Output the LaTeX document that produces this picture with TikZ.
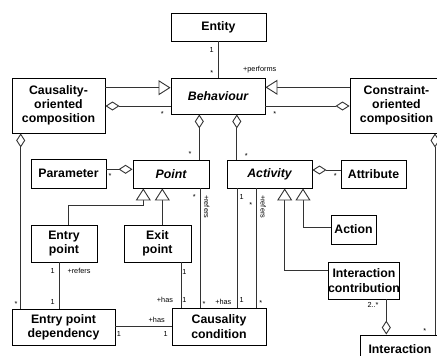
\documentclass[tikz,border=0pt]{standalone}
\usepackage{fontspec}
\setmainfont{Liberation Sans}
\usetikzlibrary{arrows.meta}
\begin{document}
\begin{tikzpicture}[x=1pt,y=-1pt,
  box/.style={draw=black, line width=0.9pt, fill=white, align=center, inner sep=0pt,
    font=\fontsize{12.3}{14.3}\selectfont\bfseries},
  abstract/.style={box, font=\fontsize{12.3}{14.3}\selectfont\bfseries\itshape},
  conn/.style={draw=black!80, line width=0.9pt},
  gen/.style={conn, -{Triangle[length=12pt, width=15pt, fill=white]}},
  aggs/.style={conn, {Diamond[length=14pt, width=9pt, fill=white]}-},
  agge/.style={conn, -{Diamond[length=14pt, width=9pt, fill=white]}},
  lbl/.style={font=\fontsize{7.3}{8}\selectfont, inner sep=0pt},
  star/.style={lbl, yshift=-1.5pt},
  vlbl/.style={lbl, rotate=-90},
]
\clip (0,0) rectangle (437,356);

% classes
\node[box, minimum width=95pt, minimum height=28pt] (entity) at (218.5,27) {Entity};
\node[abstract, minimum width=94pt, minimum height=36pt] (behaviour) at (218,96) {Behaviour};
\node[box, minimum width=93pt, minimum height=55pt] (causcomp) at (58.5,105.5) {Causality-\\oriented\\composition};
\node[box, minimum width=93pt, minimum height=55pt] (conscomp) at (396.5,105.5) {Constraint-\\oriented\\composition};
\node[box, minimum width=75pt, minimum height=29pt] (parameter) at (68.5,173.5) {Parameter};
\node[abstract, minimum width=76pt, minimum height=28pt] (point) at (171,174) {Point};
\node[abstract, minimum width=85pt, minimum height=28pt] (activity) at (269.5,174) {Activity};
\node[box, minimum width=65pt, minimum height=28pt] (attribute) at (373.5,174) {Attribute};
\node[box, minimum width=66pt, minimum height=37pt] (entry) at (64,243.5) {Entry\\point};
\node[box, minimum width=67pt, minimum height=37pt] (exit) at (157.5,243.5) {Exit\\point};
\node[box, minimum width=45pt, minimum height=29pt] (action) at (353.5,229.5) {Action};
\node[box, minimum width=66pt, minimum height=37pt] (contrib) at (364,280.5) {Interaction\\contribution};
\node[box, minimum width=103pt, minimum height=36pt] (epd) at (63.5,327) {Entry point\\dependency};
\node[box, minimum width=94pt, minimum height=37pt] (cond) at (219,326.5) {Causality\\condition};
\node[box, minimum width=80pt, minimum height=29pt] (interaction) at (400,349.5) {Interaction};

% Entity performs Behaviour
\draw[conn] (entity.south) -- (entity.south |- behaviour.north);
\node[lbl] (m1) at (211.7,50) {1};
\node[star] (m2) at (211.7,71.7) {*};
\node[lbl] (m3) at (259.7,70) {+performs};

% compositions specialise and aggregate behaviours
\draw[gen] (causcomp.east |- 0,87.7) -- (behaviour.west |- 0,87.7);
\draw[aggs] (causcomp.east |- 0,106) -- (behaviour.west |- 0,106);
\node[star] (m4) at (162.3,112.7) {*};
\draw[gen] (conscomp.west |- 0,87.3) -- (behaviour.east |- 0,87.3);
\draw[aggs] (conscomp.west |- 0,106) -- (behaviour.east |- 0,106);
\node[star] (m5) at (274.7,112.7) {*};

% Behaviour aggregates points and activities
\draw[aggs] (199.3,0 |- behaviour.south) -- (199.3,0 |- point.north);
\node[star] (m6) at (190,152.7) {*};
\draw[aggs] (236.8,0 |- behaviour.south) -- (236.8,0 |- activity.north);
\node[star] (m7) at (246.3,154) {*};

% parameters and attributes
\draw[agge] (parameter.east |- 0,169.3) -- (point.west |- 0,169.3);
\node[star] (m8) at (110,174) {*};
\draw[agge] (attribute.west |- 0,170) -- (activity.east |- 0,170);
\node[star] (m9) at (335.3,174) {*};

% kinds of point
\draw[gen] (68.3,0 |- entry.north) -- (68.3,205.3) -| (143.3,0 |- point.south);
\draw[gen] (162.3,0 |- exit.north) -- (162.3,0 |- point.south);

% kinds of activity
\draw[gen] (action.west |- 0,227) -| (303,0 |- activity.south);
\draw[gen] (contrib.west |- 0,270.7) -| (284.7,0 |- activity.south);

% Entry point dependency
\draw[conn] (59,0 |- entry.south) -- (59,0 |- epd.north);
\node[lbl] (m10) at (52.7,270.7) {1};
\node[lbl] (m11) at (79,270.7) {+refers};
\node[lbl] (m12) at (52.7,302.3) {1};
\draw[aggs] (20.7,0 |- causcomp.south) -- (20.7,0 |- epd.north);
\node[star] (m13) at (16,302) {*};
\draw[conn] (epd.east |- 0,326.3) -- (cond.west |- 0,326.3);
\node[lbl] (m14) at (156.7,319.7) {+has};
\node[lbl] (m15) at (119,333.7) {1};
\node[lbl] (m16) at (165.7,333.7) {1};

% Causality condition
\draw[conn] (181,0 |- exit.south) -- (181,0 |- cond.north);
\node[lbl] (m17) at (184.5,272) {1};
\node[lbl] (m18) at (165,300) {+has};
\node[lbl] (m19) at (184.5,300) {1};
\draw[conn] (200,0 |- point.south) -- (200,0 |- cond.north);
\node[star] (m20) at (194.3,195) {*};
\node[vlbl] (m21) at (206.7,206.7) {+refers};
\node[star] (m22) at (204,302.3) {*};
\draw[conn] (237.3,0 |- activity.south) -- (237.3,0 |- cond.north);
\node[lbl] (m23) at (241.7,197.3) {1};
\node[lbl] (m24) at (223.3,302.3) {+has};
\node[lbl] (m25) at (241.7,300) {1};
\draw[conn] (256,0 |- activity.south) -- (256,0 |- cond.north);
\node[star] (m26) at (250.7,203.3) {*};
\node[vlbl] (m27) at (263.3,206.7) {+refers};
\node[star] (m28) at (260.7,301.7) {*};

% Interaction
\draw[agge] (386.3,0 |- contrib.south) -- (386.3,0 |- interaction.north);
\node[lbl] (m29) at (373,304.7) {2..*};
\draw[aggs] (435,0 |- conscomp.south) -- (435,0 |- interaction.north);
\node[star] (m30) at (424.7,329.7) {*};
\end{tikzpicture}
\end{document}
